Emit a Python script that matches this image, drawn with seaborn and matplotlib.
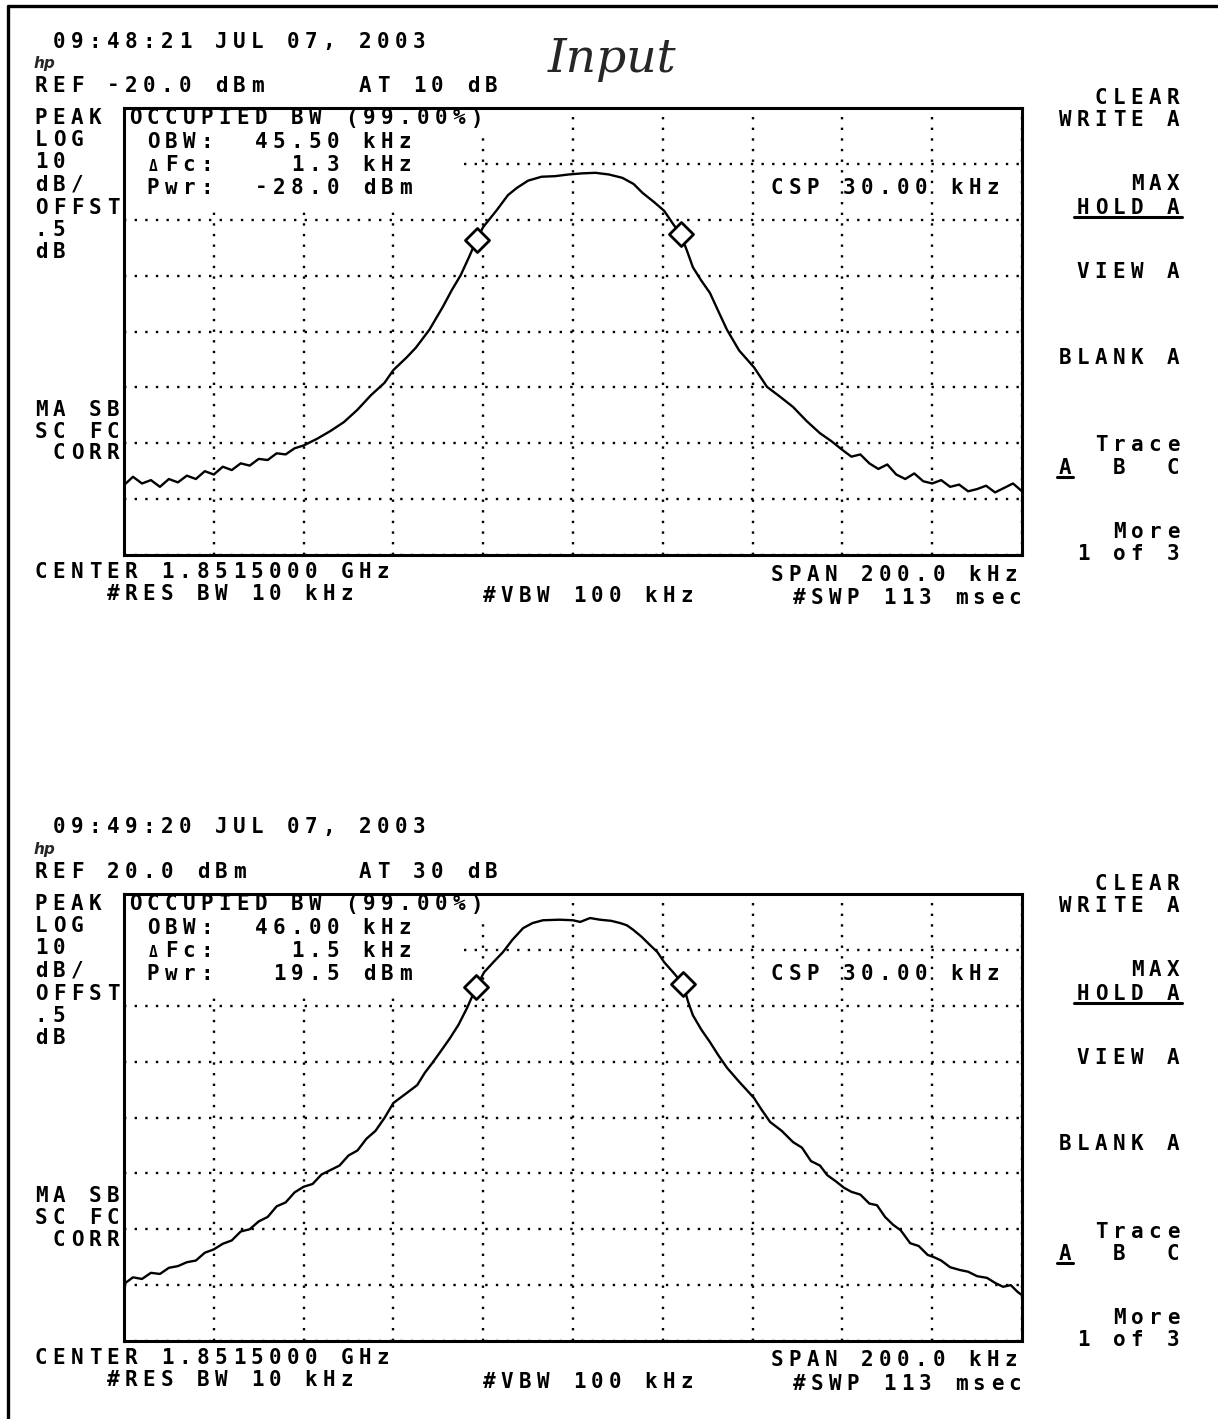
import numpy as np
import pandas as pd
import matplotlib
matplotlib.use("Agg")
import matplotlib.pyplot as plt
from matplotlib.patches import Rectangle
from matplotlib.lines import Line2D
import seaborn as sns

# --- Datos: offset de frecuencia (kHz) y nivel (dBm) ---
f_top = [-100, -98, -96, -94, -92, -90, -88, -86, -84, -82, -80, -78, -76, -74, -72, -70,
         -68, -66, -64, -62, -60, -57, -54, -51, -48, -45, -42, -40, -37, -35, -32, -29,
         -27, -25, -23, -21.5, -20, -17, -14.5, -12.5, -10, -7, -4, -1, 2, 5, 8, 11,
         13.5, 15.5, 18, 20.3, 22.5, 24, 25.5, 26.7, 28.5, 30.5, 32.5, 34.3, 37, 40.3,
         43.2, 46, 49, 52, 55, 57.5, 60, 62, 64, 66, 68, 70, 72, 74, 76, 78, 80, 82, 84,
         86, 88, 90, 92, 94, 96, 98, 100]
p_top = [-87.5, -86.0, -87.2, -86.6, -87.8, -86.4, -87.0, -85.8, -86.4, -85.0, -85.6, -84.2,
         -84.8, -83.6, -84.0, -82.8, -83.0, -81.8, -82.0, -80.9, -80.4, -79.2, -77.8, -76.2,
         -74.0, -71.4, -69.2, -66.9, -64.6, -62.9, -59.7, -55.6, -52.6, -49.9, -46.4, -43.6,
         -41.3, -38.3, -35.6, -34.3, -33.0, -32.3, -32.2, -31.9, -31.7, -31.6, -31.9, -32.5,
         -33.6, -35.2, -36.8, -38.4, -41.0, -42.6, -45.8, -48.5, -50.8, -53.1, -56.6, -59.7,
         -63.4, -66.4, -69.9, -71.6, -73.5, -76.0, -78.2, -79.6, -81.2, -82.4, -82.0, -83.6,
         -84.6, -83.8, -85.6, -86.4, -85.4, -86.8, -87.2, -86.6, -87.8, -87.4, -88.6, -88.2,
         -87.6, -88.8, -88.0, -87.2, -88.6]

f_bot = [-100, -98, -96, -94, -92, -90, -88, -86, -84, -82, -80, -78, -76, -74, -72, -70,
         -68, -66, -64, -62, -60, -58, -56, -54, -52, -50, -48, -46, -44, -42, -40, -37,
         -34.7, -33, -31.2, -29.5, -27.4, -25.5, -23.6, -21.5, -19.8, -17.5, -15.6, -13.5,
         -11.1, -9, -6.7, -3, 0, 1.6, 3.8, 6, 8.5, 10.5, 12, 13.4, 15.2, 17.1, 18.8, 20.3,
         22.5, 24.5, 25.6, 26.7, 28.6, 30.5, 32.4, 34.3, 37, 40.3, 42, 43.9, 46.5, 49, 51,
         53, 55, 56.6, 58.5, 60.4, 62, 64, 66, 67.7, 69.5, 71.3, 73, 75.1, 77, 79, 80.4,
         82, 84, 86.2, 88, 90, 92.2, 94, 95.8, 97.5, 99, 100]
p_bot = [-49.8, -48.6, -48.9, -47.8, -48.0, -46.9, -46.6, -45.9, -45.6, -44.2, -43.6, -42.6,
         -42.0, -40.4, -40.0, -38.6, -37.8, -35.9, -35.2, -33.4, -32.4, -31.9, -30.2, -29.4,
         -28.6, -26.8, -25.9, -23.8, -22.4, -20.1, -17.4, -15.6, -14.2, -12.0, -10.1, -8.2,
         -5.8, -3.4, -0.4, 3.4, 6.0, 8.0, 9.6, 11.8, 13.9, 14.8, 15.3, 15.4, 15.3, 15.0,
         15.7, 15.4, 15.2, 14.8, 14.4, 13.6, 12.4, 10.9, 9.6, 7.8, 5.8, 3.9, 0.8, -1.7,
         -4.3, -6.5, -8.9, -11.1, -13.6, -16.5, -18.6, -20.8, -22.4, -24.4, -25.4, -27.8,
         -28.6, -30.3, -31.4, -32.6, -33.3, -33.8, -35.4, -35.7, -37.8, -39.2, -40.2, -42.5,
         -43.0, -44.6, -45.0, -45.6, -46.8, -47.3, -47.6, -48.4, -48.7, -49.6, -50.3, -50.0,
         -51.2, -51.8]

# marcadores de OBW (kHz, dBm)
mk_top_f = [-21.45, 24.05]
mk_top_p = [-43.6, -42.6]
mk_bot_f = [-21.5, 24.5]
mk_bot_p = [3.4, 3.9]

ref_levels = [-20.0, 20.0]  # nivel de referencia de cada pantalla
span_khz = 200.0
db_div = 10

# --- Textos ---
headers = ["09:48:21 JUL 07, 2003", "09:49:20 JUL 07, 2003"]
ref_txt = ["REF -20.0 dBm", "REF 20.0 dBm"]
at_txt = ["AT 10 dB", "AT 30 dB"]
obw_txt = [[" OBW:  45.50 kHz", " \u0394Fc:    1.3 kHz", " Pwr:  -28.0 dBm"],
           [" OBW:  46.00 kHz", " \u0394Fc:    1.5 kHz", " Pwr:   19.5 dBm"]]
left_top = ["PEAK", "LOG", "10", "dB/", "OFFST", ".5", "dB"]
left_low = ["MA SB", "SC FC", " CORR"]
softkeys = [("CLEAR", 96), ("WRITE A", 118), ("MAX", 183), ("HOLD A", 206),
            ("VIEW A", 270), ("BLANK A", 357), ("Trace", 444), ("A  B  C", 466),
            ("More", 531), ("1 of 3", 553)]

W, H = 1218, 1419
PITCH = 18

sns.set_style("white")
plt.rcParams["font.family"] = ["DejaVu Sans Mono", "DejaVu Sans"]

fig = plt.figure(figsize=(W / 100, H / 100), dpi=100)


def put(x, y, s, size=15):
    # texto de impresora: cada caracter en su celda fija
    for i, ch in enumerate(s):
        if ch == " ":
            continue
        fs = size * 0.7 if ch == "\u0394" else size
        fig.text((x + i * PITCH + 7) / W, 1 - (y + 7.5) / H, ch, ha="center",
                 va="baseline", fontsize=fs, fontweight="bold", color="black")


def hline(x0, x1, y, lw=2.2):
    fig.add_artist(Line2D([x0 / W, x1 / W], [1 - y / H, 1 - y / H], color="black", lw=lw))


# marco del escaneo
fig.add_artist(Line2D([8 / W, 8 / W], [1 - 6 / H, 0], color="black", lw=2.4))
hline(8, W, 6, lw=2.4)

traces = [(f_top, p_top, mk_top_f, mk_top_p), (f_bot, p_bot, mk_bot_f, mk_bot_p)]

for k, (fx, py, mf, mp) in enumerate(traces):
    dy = 786 * k
    top_px = 108 + dy
    ax = fig.add_axes([124 / W, 1 - (top_px + 447) / H, 898 / W, 447 / H])
    ref = ref_levels[k]
    df = pd.DataFrame({"freq": fx, "nivel": py})
    sns.lineplot(data=df, x="freq", y="nivel", ax=ax, color="black", linewidth=1.7, zorder=3)
    sns.scatterplot(x=mf, y=mp, ax=ax, marker="D", s=150, facecolor="white",
                    edgecolor="black", linewidth=2, zorder=4)
    ax.set_xlim(-span_khz / 2, span_khz / 2)
    ax.set_ylim(ref - 8 * db_div, ref)
    ax.set_xticks(np.arange(-100, 101, 20))
    ax.set_yticks(np.arange(ref - 80, ref + 1, db_div))
    ax.set_axisbelow(True)
    ax.grid(True, color="black", linestyle=(0, (1, 3.5)), linewidth=1.7)
    ax.tick_params(length=0, labelbottom=False, labelleft=False)
    ax.set_xlabel("")
    ax.set_ylabel("")
    for sp in ax.spines.values():
        sp.set_linewidth(2.2)
        sp.set_color("black")
    # zona del texto OCCUPIED BW sin reticula
    ax.add_patch(Rectangle((-100, ref - 17.3), 74.6, 17.3, facecolor="white",
                           edgecolor="none", zorder=1))
    ax.add_patch(Rectangle((-100, ref - 4.5), 81.5, 4.5, facecolor="white",
                           edgecolor="none", zorder=1))

    # cabecera
    put(52, 40 + dy, headers[k])
    fig.text(34 / W, 1 - (68 + dy) / H, "hp", fontsize=11, fontstyle="italic",
             fontweight="bold", family="DejaVu Sans")
    put(34, 84 + dy, ref_txt[k])
    put(358, 84 + dy, at_txt[k])
    # etiquetas de la izquierda
    for j, s in enumerate(left_top):
        put(34, 116 + dy + j * 22.5, s)
    for j, s in enumerate(left_low):
        put(34, 408 + dy + j * 22, s)
    # cuadro OBW
    put(128, 117 + dy, "OCCUPIED BW (99.00%)")
    for j, s in enumerate(obw_txt[k]):
        put(128, 141 + dy + j * 22.5, s)
    put(770, 187 + dy, "CSP 30.00 kHz")
    # pie
    put(34, 571 + dy, "CENTER 1.8515000 GHz")
    put(106, 593 + dy, "#RES BW 10 kHz")
    put(482, 594 + dy, "#VBW 100 kHz")
    put(770, 573 + dy, "SPAN 200.0 kHz")
    put(792, 596 + dy, "#SWP 113 msec")
    # teclas de la derecha, alineadas a la derecha
    for s, y in softkeys:
        x0 = 1180 - (len(s) - 1) * PITCH - 14
        put(x0, y + dy, s)
        if s == "HOLD A":
            hline(x0 - 2, 1182, y + dy + 11)
        if s == "A  B  C":
            hline(x0 - 1, x0 + 15, y + dy + 11)

# anotacion a mano
fig.text(548 / W, 1 - 72 / H, "Input", fontsize=34, fontstyle="italic",
         fontweight="light", family="DejaVu Serif")

fig.savefig("out.png", dpi=100, facecolor="white")
